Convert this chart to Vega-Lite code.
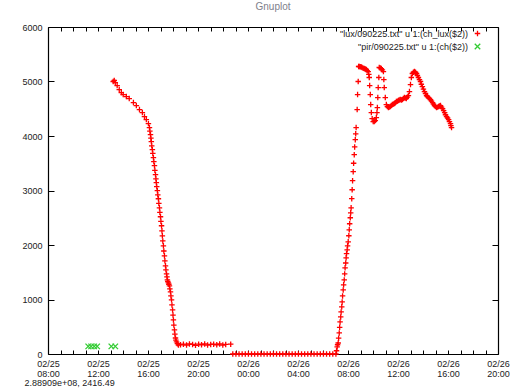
{
  "$schema": "https://vega.github.io/schema/vega-lite/v6.json",
  "width": 450,
  "height": 327,
  "autosize": {"type": "none"},
  "padding": {"left": 48, "top": 27, "right": 15, "bottom": 37},
  "background": "white",
  "title": {"text": "Gnuplot", "fontSize": 10, "font": "Liberation Sans", "fontWeight": "normal", "color": "#80808c", "offset": 11, "anchor": "middle"},
  "config": {
    "view": {"stroke": null},
    "axis": {"domainColor": "#000000", "domainWidth": 1.2, "tickColor": "#000000", "tickWidth": 1, "labelFont": "Liberation Sans", "labelFontSize": 9, "labelColor": "#222222", "grid": false},
    "legend": {"labelFont": "Liberation Sans", "labelFontSize": 9, "labelColor": "#222222"}
  },
  "datasets": {
    "obs": [
      {"t": "2009-02-25T13:13", "v": 5000, "s": "lux"},
      {"t": "2009-02-25T13:18", "v": 5018, "s": "lux"},
      {"t": "2009-02-25T13:23", "v": 4981, "s": "lux"},
      {"t": "2009-02-25T13:32", "v": 4926, "s": "lux"},
      {"t": "2009-02-25T13:42", "v": 4852, "s": "lux"},
      {"t": "2009-02-25T13:52", "v": 4797, "s": "lux"},
      {"t": "2009-02-25T14:01", "v": 4760, "s": "lux"},
      {"t": "2009-02-25T14:16", "v": 4724, "s": "lux"},
      {"t": "2009-02-25T14:30", "v": 4687, "s": "lux"},
      {"t": "2009-02-25T14:50", "v": 4613, "s": "lux"},
      {"t": "2009-02-25T15:04", "v": 4558, "s": "lux"},
      {"t": "2009-02-25T15:19", "v": 4485, "s": "lux"},
      {"t": "2009-02-25T15:33", "v": 4430, "s": "lux"},
      {"t": "2009-02-25T15:43", "v": 4356, "s": "lux"},
      {"t": "2009-02-25T15:52", "v": 4301, "s": "lux"},
      {"t": "2009-02-25T16:02", "v": 4227, "s": "lux"},
      {"t": "2009-02-25T16:07", "v": 4154, "s": "lux"},
      {"t": "2009-02-25T16:09", "v": 4090, "s": "lux"},
      {"t": "2009-02-25T16:12", "v": 4025, "s": "lux"},
      {"t": "2009-02-25T16:14", "v": 3960, "s": "lux"},
      {"t": "2009-02-25T16:16", "v": 3897, "s": "lux"},
      {"t": "2009-02-25T16:18", "v": 3820, "s": "lux"},
      {"t": "2009-02-25T16:21", "v": 3750, "s": "lux"},
      {"t": "2009-02-25T16:23", "v": 3680, "s": "lux"},
      {"t": "2009-02-25T16:26", "v": 3602, "s": "lux"},
      {"t": "2009-02-25T16:28", "v": 3530, "s": "lux"},
      {"t": "2009-02-25T16:31", "v": 3455, "s": "lux"},
      {"t": "2009-02-25T16:33", "v": 3370, "s": "lux"},
      {"t": "2009-02-25T16:36", "v": 3290, "s": "lux"},
      {"t": "2009-02-25T16:38", "v": 3215, "s": "lux"},
      {"t": "2009-02-25T16:40", "v": 3143, "s": "lux"},
      {"t": "2009-02-25T16:42", "v": 3070, "s": "lux"},
      {"t": "2009-02-25T16:45", "v": 2996, "s": "lux"},
      {"t": "2009-02-25T16:47", "v": 2920, "s": "lux"},
      {"t": "2009-02-25T16:50", "v": 2849, "s": "lux"},
      {"t": "2009-02-25T16:52", "v": 2765, "s": "lux"},
      {"t": "2009-02-25T16:55", "v": 2683, "s": "lux"},
      {"t": "2009-02-25T16:57", "v": 2600, "s": "lux"},
      {"t": "2009-02-25T17:00", "v": 2518, "s": "lux"},
      {"t": "2009-02-25T17:02", "v": 2435, "s": "lux"},
      {"t": "2009-02-25T17:05", "v": 2353, "s": "lux"},
      {"t": "2009-02-25T17:07", "v": 2260, "s": "lux"},
      {"t": "2009-02-25T17:09", "v": 2169, "s": "lux"},
      {"t": "2009-02-25T17:11", "v": 2075, "s": "lux"},
      {"t": "2009-02-25T17:14", "v": 1985, "s": "lux"},
      {"t": "2009-02-25T17:16", "v": 1890, "s": "lux"},
      {"t": "2009-02-25T17:19", "v": 1801, "s": "lux"},
      {"t": "2009-02-25T17:21", "v": 1710, "s": "lux"},
      {"t": "2009-02-25T17:24", "v": 1618, "s": "lux"},
      {"t": "2009-02-25T17:26", "v": 1545, "s": "lux"},
      {"t": "2009-02-25T17:29", "v": 1470, "s": "lux"},
      {"t": "2009-02-25T17:31", "v": 1415, "s": "lux"},
      {"t": "2009-02-25T17:33", "v": 1360, "s": "lux"},
      {"t": "2009-02-25T17:35", "v": 1330, "s": "lux"},
      {"t": "2009-02-25T17:38", "v": 1305, "s": "lux"},
      {"t": "2009-02-25T17:40", "v": 1280, "s": "lux"},
      {"t": "2009-02-25T17:43", "v": 1250, "s": "lux"},
      {"t": "2009-02-25T17:45", "v": 1195, "s": "lux"},
      {"t": "2009-02-25T17:48", "v": 1140, "s": "lux"},
      {"t": "2009-02-25T17:50", "v": 1065, "s": "lux"},
      {"t": "2009-02-25T17:53", "v": 993, "s": "lux"},
      {"t": "2009-02-25T17:55", "v": 900, "s": "lux"},
      {"t": "2009-02-25T17:58", "v": 809, "s": "lux"},
      {"t": "2009-02-25T18:00", "v": 715, "s": "lux"},
      {"t": "2009-02-25T18:02", "v": 625, "s": "lux"},
      {"t": "2009-02-25T18:04", "v": 530, "s": "lux"},
      {"t": "2009-02-25T18:07", "v": 441, "s": "lux"},
      {"t": "2009-02-25T18:09", "v": 365, "s": "lux"},
      {"t": "2009-02-25T18:12", "v": 294, "s": "lux"},
      {"t": "2009-02-25T18:14", "v": 255, "s": "lux"},
      {"t": "2009-02-25T18:17", "v": 221, "s": "lux"},
      {"t": "2009-02-25T18:21", "v": 190, "s": "lux"},
      {"t": "2009-02-25T18:26", "v": 165, "s": "lux"},
      {"t": "2009-02-25T18:36", "v": 170, "s": "lux"},
      {"t": "2009-02-25T18:50", "v": 180, "s": "lux"},
      {"t": "2009-02-25T19:05", "v": 165, "s": "lux"},
      {"t": "2009-02-25T19:19", "v": 185, "s": "lux"},
      {"t": "2009-02-25T19:34", "v": 175, "s": "lux"},
      {"t": "2009-02-25T19:48", "v": 160, "s": "lux"},
      {"t": "2009-02-25T20:03", "v": 180, "s": "lux"},
      {"t": "2009-02-25T20:17", "v": 170, "s": "lux"},
      {"t": "2009-02-25T20:32", "v": 185, "s": "lux"},
      {"t": "2009-02-25T20:46", "v": 165, "s": "lux"},
      {"t": "2009-02-25T21:01", "v": 175, "s": "lux"},
      {"t": "2009-02-25T21:15", "v": 180, "s": "lux"},
      {"t": "2009-02-25T21:30", "v": 170, "s": "lux"},
      {"t": "2009-02-25T21:44", "v": 185, "s": "lux"},
      {"t": "2009-02-25T21:59", "v": 165, "s": "lux"},
      {"t": "2009-02-25T22:13", "v": 175, "s": "lux"},
      {"t": "2009-02-25T22:37", "v": 180, "s": "lux"},
      {"t": "2009-02-25T22:47", "v": 0, "s": "lux"},
      {"t": "2009-02-25T23:02", "v": 0, "s": "lux"},
      {"t": "2009-02-25T23:17", "v": 0, "s": "lux"},
      {"t": "2009-02-25T23:32", "v": 0, "s": "lux"},
      {"t": "2009-02-25T23:47", "v": 0, "s": "lux"},
      {"t": "2009-02-26T00:02", "v": 0, "s": "lux"},
      {"t": "2009-02-26T00:17", "v": 0, "s": "lux"},
      {"t": "2009-02-26T00:32", "v": 0, "s": "lux"},
      {"t": "2009-02-26T00:47", "v": 0, "s": "lux"},
      {"t": "2009-02-26T01:02", "v": 0, "s": "lux"},
      {"t": "2009-02-26T01:17", "v": 0, "s": "lux"},
      {"t": "2009-02-26T01:32", "v": 0, "s": "lux"},
      {"t": "2009-02-26T01:47", "v": 0, "s": "lux"},
      {"t": "2009-02-26T02:02", "v": 0, "s": "lux"},
      {"t": "2009-02-26T02:17", "v": 0, "s": "lux"},
      {"t": "2009-02-26T02:32", "v": 0, "s": "lux"},
      {"t": "2009-02-26T02:47", "v": 0, "s": "lux"},
      {"t": "2009-02-26T03:02", "v": 0, "s": "lux"},
      {"t": "2009-02-26T03:17", "v": 0, "s": "lux"},
      {"t": "2009-02-26T03:32", "v": 0, "s": "lux"},
      {"t": "2009-02-26T03:47", "v": 0, "s": "lux"},
      {"t": "2009-02-26T04:02", "v": 0, "s": "lux"},
      {"t": "2009-02-26T04:17", "v": 0, "s": "lux"},
      {"t": "2009-02-26T04:32", "v": 0, "s": "lux"},
      {"t": "2009-02-26T04:47", "v": 0, "s": "lux"},
      {"t": "2009-02-26T05:02", "v": 0, "s": "lux"},
      {"t": "2009-02-26T05:17", "v": 0, "s": "lux"},
      {"t": "2009-02-26T05:32", "v": 0, "s": "lux"},
      {"t": "2009-02-26T05:47", "v": 0, "s": "lux"},
      {"t": "2009-02-26T06:02", "v": 0, "s": "lux"},
      {"t": "2009-02-26T06:17", "v": 0, "s": "lux"},
      {"t": "2009-02-26T06:32", "v": 0, "s": "lux"},
      {"t": "2009-02-26T06:47", "v": 0, "s": "lux"},
      {"t": "2009-02-26T07:02", "v": 0, "s": "lux"},
      {"t": "2009-02-26T07:05", "v": 60, "s": "lux"},
      {"t": "2009-02-26T07:08", "v": 129, "s": "lux"},
      {"t": "2009-02-26T07:10", "v": 170, "s": "lux"},
      {"t": "2009-02-26T07:13", "v": 202, "s": "lux"},
      {"t": "2009-02-26T07:15", "v": 290, "s": "lux"},
      {"t": "2009-02-26T07:18", "v": 386, "s": "lux"},
      {"t": "2009-02-26T07:20", "v": 490, "s": "lux"},
      {"t": "2009-02-26T07:22", "v": 588, "s": "lux"},
      {"t": "2009-02-26T07:25", "v": 680, "s": "lux"},
      {"t": "2009-02-26T07:27", "v": 772, "s": "lux"},
      {"t": "2009-02-26T07:30", "v": 865, "s": "lux"},
      {"t": "2009-02-26T07:32", "v": 956, "s": "lux"},
      {"t": "2009-02-26T07:34", "v": 1065, "s": "lux"},
      {"t": "2009-02-26T07:37", "v": 1176, "s": "lux"},
      {"t": "2009-02-26T07:39", "v": 1270, "s": "lux"},
      {"t": "2009-02-26T07:42", "v": 1360, "s": "lux"},
      {"t": "2009-02-26T07:44", "v": 1470, "s": "lux"},
      {"t": "2009-02-26T07:46", "v": 1581, "s": "lux"},
      {"t": "2009-02-26T07:49", "v": 1670, "s": "lux"},
      {"t": "2009-02-26T07:51", "v": 1764, "s": "lux"},
      {"t": "2009-02-26T07:53", "v": 1840, "s": "lux"},
      {"t": "2009-02-26T07:56", "v": 1912, "s": "lux"},
      {"t": "2009-02-26T07:58", "v": 1985, "s": "lux"},
      {"t": "2009-02-26T08:01", "v": 2059, "s": "lux"},
      {"t": "2009-02-26T08:04", "v": 2170, "s": "lux"},
      {"t": "2009-02-26T08:06", "v": 2279, "s": "lux"},
      {"t": "2009-02-26T08:08", "v": 2390, "s": "lux"},
      {"t": "2009-02-26T08:11", "v": 2500, "s": "lux"},
      {"t": "2009-02-26T08:13", "v": 2590, "s": "lux"},
      {"t": "2009-02-26T08:15", "v": 2683, "s": "lux"},
      {"t": "2009-02-26T08:18", "v": 2850, "s": "lux"},
      {"t": "2009-02-26T08:20", "v": 3014, "s": "lux"},
      {"t": "2009-02-26T08:22", "v": 3180, "s": "lux"},
      {"t": "2009-02-26T08:25", "v": 3345, "s": "lux"},
      {"t": "2009-02-26T08:27", "v": 3500, "s": "lux"},
      {"t": "2009-02-26T08:30", "v": 3658, "s": "lux"},
      {"t": "2009-02-26T08:32", "v": 3800, "s": "lux"},
      {"t": "2009-02-26T08:35", "v": 3933, "s": "lux"},
      {"t": "2009-02-26T08:37", "v": 4040, "s": "lux"},
      {"t": "2009-02-26T08:39", "v": 4154, "s": "lux"},
      {"t": "2009-02-26T08:44", "v": 4485, "s": "lux"},
      {"t": "2009-02-26T08:46", "v": 4760, "s": "lux"},
      {"t": "2009-02-26T08:49", "v": 5000, "s": "lux"},
      {"t": "2009-02-26T08:51", "v": 5275, "s": "lux"},
      {"t": "2009-02-26T08:54", "v": 5275, "s": "lux"},
      {"t": "2009-02-26T08:59", "v": 5270, "s": "lux"},
      {"t": "2009-02-26T09:04", "v": 5265, "s": "lux"},
      {"t": "2009-02-26T09:08", "v": 5257, "s": "lux"},
      {"t": "2009-02-26T09:13", "v": 5245, "s": "lux"},
      {"t": "2009-02-26T09:18", "v": 5238, "s": "lux"},
      {"t": "2009-02-26T09:23", "v": 5230, "s": "lux"},
      {"t": "2009-02-26T09:28", "v": 5220, "s": "lux"},
      {"t": "2009-02-26T09:32", "v": 5200, "s": "lux"},
      {"t": "2009-02-26T09:37", "v": 5183, "s": "lux"},
      {"t": "2009-02-26T09:40", "v": 5130, "s": "lux"},
      {"t": "2009-02-26T09:42", "v": 5073, "s": "lux"},
      {"t": "2009-02-26T09:44", "v": 4926, "s": "lux"},
      {"t": "2009-02-26T09:47", "v": 4760, "s": "lux"},
      {"t": "2009-02-26T09:49", "v": 4577, "s": "lux"},
      {"t": "2009-02-26T09:52", "v": 4430, "s": "lux"},
      {"t": "2009-02-26T09:56", "v": 4319, "s": "lux"},
      {"t": "2009-02-26T10:01", "v": 4264, "s": "lux"},
      {"t": "2009-02-26T10:06", "v": 4264, "s": "lux"},
      {"t": "2009-02-26T10:11", "v": 4282, "s": "lux"},
      {"t": "2009-02-26T10:16", "v": 4338, "s": "lux"},
      {"t": "2009-02-26T10:19", "v": 4430, "s": "lux"},
      {"t": "2009-02-26T10:21", "v": 4521, "s": "lux"},
      {"t": "2009-02-26T10:23", "v": 4705, "s": "lux"},
      {"t": "2009-02-26T10:25", "v": 4889, "s": "lux"},
      {"t": "2009-02-26T10:28", "v": 5073, "s": "lux"},
      {"t": "2009-02-26T10:30", "v": 5257, "s": "lux"},
      {"t": "2009-02-26T10:35", "v": 5250, "s": "lux"},
      {"t": "2009-02-26T10:40", "v": 5238, "s": "lux"},
      {"t": "2009-02-26T10:45", "v": 5215, "s": "lux"},
      {"t": "2009-02-26T10:50", "v": 5183, "s": "lux"},
      {"t": "2009-02-26T10:52", "v": 5036, "s": "lux"},
      {"t": "2009-02-26T10:54", "v": 4889, "s": "lux"},
      {"t": "2009-02-26T10:59", "v": 4705, "s": "lux"},
      {"t": "2009-02-26T11:04", "v": 4577, "s": "lux"},
      {"t": "2009-02-26T11:09", "v": 4540, "s": "lux"},
      {"t": "2009-02-26T11:14", "v": 4521, "s": "lux"},
      {"t": "2009-02-26T11:18", "v": 4530, "s": "lux"},
      {"t": "2009-02-26T11:23", "v": 4540, "s": "lux"},
      {"t": "2009-02-26T11:28", "v": 4560, "s": "lux"},
      {"t": "2009-02-26T11:33", "v": 4577, "s": "lux"},
      {"t": "2009-02-26T11:38", "v": 4585, "s": "lux"},
      {"t": "2009-02-26T11:43", "v": 4595, "s": "lux"},
      {"t": "2009-02-26T11:47", "v": 4610, "s": "lux"},
      {"t": "2009-02-26T11:52", "v": 4632, "s": "lux"},
      {"t": "2009-02-26T11:57", "v": 4640, "s": "lux"},
      {"t": "2009-02-26T12:02", "v": 4650, "s": "lux"},
      {"t": "2009-02-26T12:06", "v": 4660, "s": "lux"},
      {"t": "2009-02-26T12:11", "v": 4669, "s": "lux"},
      {"t": "2009-02-26T12:16", "v": 4660, "s": "lux"},
      {"t": "2009-02-26T12:21", "v": 4669, "s": "lux"},
      {"t": "2009-02-26T12:26", "v": 4690, "s": "lux"},
      {"t": "2009-02-26T12:31", "v": 4705, "s": "lux"},
      {"t": "2009-02-26T12:35", "v": 4695, "s": "lux"},
      {"t": "2009-02-26T12:40", "v": 4687, "s": "lux"},
      {"t": "2009-02-26T12:45", "v": 4715, "s": "lux"},
      {"t": "2009-02-26T12:50", "v": 4742, "s": "lux"},
      {"t": "2009-02-26T12:55", "v": 4816, "s": "lux"},
      {"t": "2009-02-26T13:00", "v": 4944, "s": "lux"},
      {"t": "2009-02-26T13:04", "v": 5073, "s": "lux"},
      {"t": "2009-02-26T13:09", "v": 5147, "s": "lux"},
      {"t": "2009-02-26T13:14", "v": 5170, "s": "lux"},
      {"t": "2009-02-26T13:19", "v": 5183, "s": "lux"},
      {"t": "2009-02-26T13:24", "v": 5170, "s": "lux"},
      {"t": "2009-02-26T13:29", "v": 5147, "s": "lux"},
      {"t": "2009-02-26T13:33", "v": 5110, "s": "lux"},
      {"t": "2009-02-26T13:38", "v": 5073, "s": "lux"},
      {"t": "2009-02-26T13:43", "v": 5035, "s": "lux"},
      {"t": "2009-02-26T13:48", "v": 5000, "s": "lux"},
      {"t": "2009-02-26T13:52", "v": 4950, "s": "lux"},
      {"t": "2009-02-26T13:57", "v": 4907, "s": "lux"},
      {"t": "2009-02-26T14:02", "v": 4860, "s": "lux"},
      {"t": "2009-02-26T14:07", "v": 4816, "s": "lux"},
      {"t": "2009-02-26T14:12", "v": 4780, "s": "lux"},
      {"t": "2009-02-26T14:17", "v": 4742, "s": "lux"},
      {"t": "2009-02-26T14:21", "v": 4725, "s": "lux"},
      {"t": "2009-02-26T14:26", "v": 4705, "s": "lux"},
      {"t": "2009-02-26T14:31", "v": 4690, "s": "lux"},
      {"t": "2009-02-26T14:36", "v": 4669, "s": "lux"},
      {"t": "2009-02-26T14:41", "v": 4640, "s": "lux"},
      {"t": "2009-02-26T14:46", "v": 4613, "s": "lux"},
      {"t": "2009-02-26T14:50", "v": 4585, "s": "lux"},
      {"t": "2009-02-26T14:55", "v": 4558, "s": "lux"},
      {"t": "2009-02-26T15:00", "v": 4540, "s": "lux"},
      {"t": "2009-02-26T15:05", "v": 4521, "s": "lux"},
      {"t": "2009-02-26T15:10", "v": 4530, "s": "lux"},
      {"t": "2009-02-26T15:15", "v": 4540, "s": "lux"},
      {"t": "2009-02-26T15:19", "v": 4550, "s": "lux"},
      {"t": "2009-02-26T15:24", "v": 4558, "s": "lux"},
      {"t": "2009-02-26T15:29", "v": 4530, "s": "lux"},
      {"t": "2009-02-26T15:34", "v": 4503, "s": "lux"},
      {"t": "2009-02-26T15:39", "v": 4465, "s": "lux"},
      {"t": "2009-02-26T15:44", "v": 4430, "s": "lux"},
      {"t": "2009-02-26T15:48", "v": 4390, "s": "lux"},
      {"t": "2009-02-26T15:53", "v": 4356, "s": "lux"},
      {"t": "2009-02-26T15:58", "v": 4330, "s": "lux"},
      {"t": "2009-02-26T16:03", "v": 4301, "s": "lux"},
      {"t": "2009-02-26T16:07", "v": 4265, "s": "lux"},
      {"t": "2009-02-26T16:12", "v": 4227, "s": "lux"},
      {"t": "2009-02-26T16:14", "v": 4190, "s": "lux"},
      {"t": "2009-02-26T16:17", "v": 4154, "s": "lux"},
      {"t": "2009-02-25T11:13", "v": 140, "s": "pir"},
      {"t": "2009-02-25T11:27", "v": 140, "s": "pir"},
      {"t": "2009-02-25T11:42", "v": 140, "s": "pir"},
      {"t": "2009-02-25T11:56", "v": 140, "s": "pir"},
      {"t": "2009-02-25T13:04", "v": 140, "s": "pir"},
      {"t": "2009-02-25T13:23", "v": 140, "s": "pir"}
    ]
  },
  "data": {"name": "obs"},
  "layer": [
    {
      "mark": {"type": "point", "filled": false, "size": 30, "strokeWidth": 1.3, "opacity": 1},
      "encoding": {
        "x": {
          "field": "t", "type": "temporal",
          "scale": {"domain": [{"year": 2009, "month": 2, "date": 25, "hours": 8}, {"year": 2009, "month": 2, "date": 26, "hours": 20}]},
          "axis": {
            "orient": "bottom",
            "tickCount": 36,
            "tickSize": -4,
            "labelExpr": "hours(datum.value) % 4 == 0 ? [timeFormat(datum.value, '%m/%d'), timeFormat(datum.value, '%H:%M')] : ''",
            "labelPadding": 9,
            "labelLineHeight": 10,
            "labelFlush": false,
            "labelOverlap": false,
            "labelBaseline": "top",
            "title": "2.88909e+08,  2416.49",
            "titleFont": "Liberation Sans",
            "titleFontSize": 9,
            "titleFontWeight": "normal",
            "titleColor": "#222222",
            "titleAnchor": "start",
            "titleAlign": "left",
            "titleBaseline": "middle",
            "titleX": -24,
            "titleY": 28
          }
        },
        "y": {
          "field": "v", "type": "quantitative",
          "scale": {"domain": [0, 6000], "nice": false},
          "axis": {"orient": "left", "values": [0, 1000, 2000, 3000, 4000, 5000, 6000], "format": "d", "tickSize": -6, "labelPadding": 12, "title": null}
        },
        "color": {
          "field": "s", "type": "nominal",
          "scale": {"domain": ["lux", "pir"], "range": ["#ff0000", "#33cc33"]},
          "legend": {
            "title": null, "orient": "none", "legendX": 425, "legendY": 2, "padding": 0,
            "symbolSize": 30, "symbolStrokeWidth": 1.3,
            "labelAlign": "right", "labelOffset": -14, "rowPadding": 2,
            "labelExpr": "datum.label == 'lux' ? '\"lux/090225.txt\" u 1:(ch_lux($2))' : '\"pir/090225.txt\" u 1:(ch($2))'"
          }
        },
        "shape": {
          "field": "s", "type": "nominal",
          "scale": {"domain": ["lux", "pir"], "range": ["M-1,0L1,0M0,-1L0,1", "M-1,-1L1,1M-1,1L1,-1"]},
          "legend": {
            "title": null, "orient": "none", "legendX": 425, "legendY": 2, "padding": 0,
            "symbolSize": 30, "symbolStrokeWidth": 1.3,
            "labelAlign": "right", "labelOffset": -14, "rowPadding": 2,
            "labelExpr": "datum.label == 'lux' ? '\"lux/090225.txt\" u 1:(ch_lux($2))' : '\"pir/090225.txt\" u 1:(ch($2))'"
          }
        }
      }
    },
    {
      "mark": {"type": "point", "opacity": 0},
      "encoding": {
        "x": {
          "field": "t", "type": "temporal",
          "axis": {"orient": "top", "tickCount": 36, "tickSize": -4, "labels": false, "title": null}
        },
        "y": {
          "field": "v", "type": "quantitative",
          "axis": {"orient": "right", "values": [0, 1000, 2000, 3000, 4000, 5000, 6000], "tickSize": -6, "labels": false, "title": null}
        }
      }
    }
  ],
  "resolve": {"axis": {"x": "independent", "y": "independent"}}
}
